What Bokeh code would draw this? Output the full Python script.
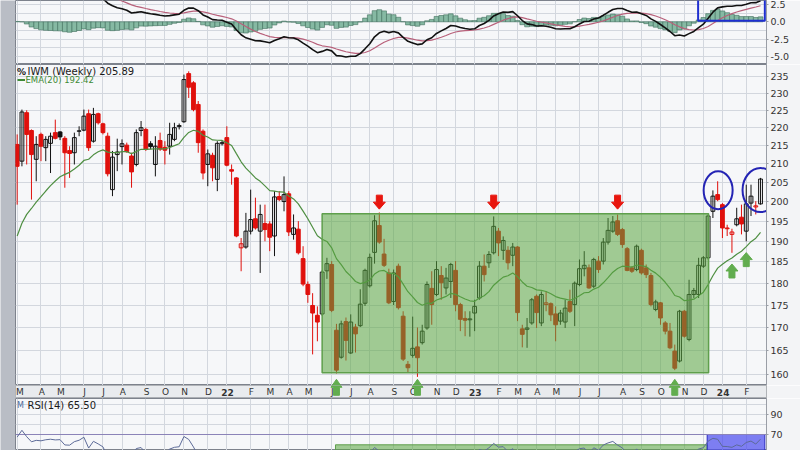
import math
import datetime as dt
from bokeh.plotting import figure
from bokeh.layouts import column, row
from bokeh.models import Range1d, FixedTicker, Grid, PrintfTickFormatter, ColumnDataSource
from bokeh.core.properties import value
from bokeh.embed import file_html
from bokeh.resources import INLINE

# ---------------- data (weekly IWM, first bar = week of 2021-03-01) ----------------
first_week = dt.date(2021, 3, 1)
opens = [215.3, 210.7, 224.3, 219.2, 211.2, 218.1, 214.4, 215.6, 218.6, 218.8,
         217.0, 213.6, 213.0, 219.0, 219.3, 224.0, 216.2, 224.0, 221.1, 217.6,
         203.1, 212.5, 214.7, 215.1, 212.1, 209.8, 219.2, 219.5, 215.5, 209.8,
         216.4, 214.5, 214.8, 216.7, 220.3, 221.7, 235.9, 233.1, 226.7, 219.0,
         209.8, 212.3, 205.8, 215.5, 217.2, 208.4, 206.2, 188.4, 188.6, 192.5,
         195.6, 192.5, 194.4, 194.3, 191.3, 201.3, 200.0, 202.0, 191.7, 193.0,
         185.8, 179.7, 174.9, 172.7, 173.0, 182.9, 184.4, 169.4, 163.6, 171.3,
         164.5, 170.1, 170.4, 175.4, 179.4, 187.3, 193.9, 186.9, 182.4, 175.8,
         184.0, 172.5, 162.1, 164.0, 165.8, 166.7, 169.9, 178.8, 177.4, 181.8,
         178.9, 180.4, 183.0, 175.1, 172.0, 171.7, 173.2, 176.6, 184.0, 184.8,
         187.2, 192.5, 187.8, 187.8, 186.6, 188.6, 169.7, 169.6, 171.0, 177.0,
         171.0, 175.1, 175.3, 173.0, 171.4, 171.2, 175.8, 175.1, 179.7, 183.4,
         183.6, 179.3, 185.2, 185.2, 189.8, 192.5, 195.1, 192.9, 188.2, 183.6,
         183.2, 187.8, 183.6, 181.8, 174.0, 175.5, 171.0, 169.2, 164.9, 162.8,
         173.6, 167.4, 177.4, 177.4, 184.0, 186.0, 197.5, 201.8, 199.2, 193.3,
         191.7, 194.1, 196.0, 192.5, 199.6, 198.6, 199.4]
highs = [218.1, 225.2, 225.0, 219.5, 217.6, 218.6, 217.6, 218.6, 222.3, 219.0,
         217.6, 214.8, 218.6, 220.4, 225.2, 225.2, 225.7, 224.3, 221.4, 218.6,
         213.5, 216.9, 216.7, 215.8, 213.0, 219.5, 221.9, 220.0, 216.2, 217.6,
         218.6, 216.2, 221.4, 221.4, 221.2, 235.6, 236.6, 233.6, 227.7, 219.5,
         213.9, 213.0, 216.2, 216.4, 220.4, 209.8, 206.4, 190.8, 197.1, 203.1,
         201.0, 199.2, 199.2, 195.0, 202.7, 202.7, 206.6, 202.7, 196.7, 195.0,
         188.8, 180.4, 177.7, 174.7, 183.0, 186.0, 185.2, 170.8, 171.5, 172.2,
         172.9, 170.8, 178.6, 183.4, 187.0, 196.5, 197.2, 190.6, 183.4, 183.2,
         184.6, 173.6, 162.8, 172.4, 170.0, 170.6, 180.4, 182.8, 185.2, 184.0,
         183.6, 184.8, 185.2, 175.5, 173.6, 173.6, 176.2, 185.2, 186.8, 187.6,
         196.2, 193.3, 191.2, 188.8, 189.6, 188.8, 170.6, 172.1, 176.6, 177.4,
         178.1, 178.1, 175.6, 174.7, 173.9, 176.2, 178.5, 180.4, 185.6, 187.6,
         184.4, 186.0, 186.4, 190.8, 195.8, 196.3, 196.7, 193.3, 188.6, 184.0,
         189.2, 188.2, 184.4, 182.4, 176.2, 175.7, 171.4, 171.0, 166.3, 173.9,
         173.9, 180.8, 178.9, 186.0, 186.4, 196.7, 202.9, 205.3, 199.6, 194.1,
         193.1, 198.4, 199.2, 204.4, 204.4, 200.1, 206.2]
lows = [199.2, 209.3, 209.8, 200.5, 205.3, 210.7, 210.7, 207.5, 216.7, 216.5,
        203.6, 206.2, 209.8, 217.6, 219.0, 213.5, 215.8, 220.9, 218.1, 206.6,
        201.4, 208.0, 209.8, 213.0, 203.6, 209.3, 217.6, 213.5, 214.0, 206.6,
        213.5, 209.8, 212.5, 216.2, 219.5, 221.4, 228.6, 224.7, 213.0, 205.8,
        204.0, 205.3, 202.7, 215.0, 209.3, 204.4, 191.0, 182.8, 188.2, 191.7,
        192.9, 182.4, 190.0, 187.6, 186.4, 200.1, 197.5, 191.3, 190.4, 186.8,
        179.3, 175.5, 164.2, 167.0, 172.6, 181.0, 173.4, 160.2, 163.3, 162.9,
        164.3, 164.6, 170.1, 174.8, 179.0, 184.6, 189.4, 183.8, 175.2, 175.0,
        174.0, 162.8, 160.3, 163.5, 159.5, 166.3, 169.5, 170.6, 177.0, 176.2,
        177.4, 176.6, 173.6, 169.2, 168.1, 168.0, 169.2, 176.2, 180.4, 183.6,
        186.8, 186.4, 185.5, 183.2, 184.0, 171.4, 165.7, 165.6, 170.6, 169.9,
        170.3, 173.6, 171.4, 167.0, 170.6, 169.9, 173.2, 170.3, 179.3, 181.6,
        178.7, 178.9, 182.4, 184.4, 189.2, 192.1, 191.3, 188.4, 182.8, 182.4,
        182.8, 182.0, 181.2, 174.7, 173.6, 170.6, 168.5, 165.3, 160.9, 162.5,
        167.8, 167.0, 176.6, 176.6, 183.6, 185.6, 195.8, 200.1, 190.8, 191.3,
        187.2, 193.7, 191.7, 190.0, 196.3, 196.7, 199.2]
closes = [209.3, 224.5, 218.1, 212.5, 215.3, 214.8, 216.7, 217.6, 217.0, 217.4,
          213.0, 212.8, 217.2, 219.1, 223.3, 214.4, 223.8, 221.4, 218.6, 207.3,
          211.8, 213.2, 215.5, 213.3, 207.8, 218.6, 220.0, 213.9, 214.7, 214.8,
          214.0, 213.7, 218.1, 220.0, 220.6, 234.1, 231.8, 225.2, 215.8, 207.5,
          212.7, 208.9, 215.6, 215.8, 209.6, 208.0, 191.3, 189.4, 192.5, 195.4,
          193.3, 196.7, 192.9, 191.0, 201.2, 200.5, 201.8, 192.3, 193.3, 187.2,
          179.8, 177.4, 173.2, 171.2, 182.6, 184.6, 173.8, 160.9, 170.8, 167.2,
          171.2, 168.6, 175.2, 183.0, 186.1, 195.1, 189.8, 184.2, 175.5, 182.4,
          174.4, 163.2, 161.4, 165.5, 163.5, 169.2, 179.7, 175.1, 183.2, 180.1,
          181.2, 184.4, 175.1, 171.8, 171.6, 171.9, 174.7, 184.0, 182.0, 186.8,
          193.7, 189.6, 190.2, 184.8, 188.6, 173.3, 168.5, 169.9, 176.2, 173.3,
          177.4, 175.5, 172.8, 170.6, 173.2, 174.3, 173.6, 180.0, 183.4, 184.2,
          178.9, 185.6, 183.2, 189.8, 192.7, 194.8, 191.7, 189.2, 183.0, 182.8,
          188.8, 182.4, 182.0, 175.1, 175.7, 172.1, 169.2, 165.6, 161.3, 173.6,
          168.1, 177.4, 178.3, 184.2, 186.0, 196.3, 201.4, 200.5, 193.3, 193.1,
          192.3, 195.6, 194.3, 199.4, 201.4, 198.9, 205.89]

# indicator values at the first bar
ema20_first = 191.3
ema12_first = 207.0
ema26_first = 190.0
signal_first = 8.9
rsi_gain_first = 3.0
rsi_loss_first = 1.45

price_ticks = [160, 165, 170, 175, 180, 185, 190, 195, 200, 205, 210, 215, 220, 225, 230, 235]
ppo_ticks = [-5.0, -2.5, 0.0, 2.5]
rsi_ticks = [70, 90]
month_labels = ["M", "A", "M", "J", "J", "A", "S", "O", "N", "D", "22", "F",
                "M", "A", "M", "J", "J", "A", "S", "O", "N", "D", "23", "F",
                "M", "A", "M", "J", "J", "A", "S", "O", "N", "D", "24", "F"]

# annotations (in weeks / prices)
range_box_weeks = (64.0, 145.1)
range_box_prices = (160.35, 196.9)
resistance_weeks = [76, 100, 126]
support_weeks = [67, 84, 138]
ema_support_weeks = [150, 153]
circled_weeks = [147.1, 156.0]

# ---------------- layout constants (page px) ----------------
LEFT_W = 15
FRAME_W = 751
RIGHT_W = 34
X0, X1 = -0.35, 157.25
PX_PER_BAR = FRAME_W / (X1 - X0)
P_TOP, P_BOT = 238.69, 157.74
MACD_H = 64
PRICE_H = 321
STRIP_H = 13
RSI_H = 52
K = math.log(P_TOP / P_BOT) / PRICE_H
P_STRIP_BOT = P_BOT * math.exp(-K * STRIP_H)

def px_x(px):  # page x -> bar coordinate
    return X0 + (px - LEFT_W) / PX_PER_BAR

def px_p(py):  # page y -> price
    return P_TOP * math.exp(-K * (py - MACD_H))

n = len(closes)
weeks = list(range(n))

def ema(vals, first, span):
    a = 2.0 / (span + 1)
    out = [first]
    for v in vals[1:]:
        out.append(out[-1] + a * (v - out[-1]))
    return out

ema20 = ema(closes, ema20_first, 20)
ema12 = ema(closes, ema12_first, 12)
ema26 = ema(closes, ema26_first, 26)
ppo = [100.0 * (a - b) / b for a, b in zip(ema12, ema26)]
signal = ema(ppo, signal_first, 9)
hist = [m - s for m, s in zip(ppo, signal)]

rsi = []
ag, al = rsi_gain_first, rsi_loss_first
for i in range(n):
    if i > 0:
        ch = closes[i] - closes[i - 1]
        ag = (ag * 13 + max(ch, 0)) / 14
        al = (al * 13 + max(-ch, 0)) / 14
    rsi.append(100 - 100 / (1 + ag / al))

# month ticks: bar of the first Monday of each month
month_pos = []
y, m = 2021, 3
for k in range(len(month_labels)):
    d = dt.date(y, m, 1)
    while d.weekday() != 0:
        d += dt.timedelta(days=1)
    month_pos.append((d - first_week).days // 7)
    m += 1
    if m > 12:
        m, y = 1, y + 1

# ---------------- styles ----------------
BG = "#f6f7f9"
GRID = "#d3d7de"
OUTLINE = "#7d828c"
FONT = value("DejaVu Sans")
xr = Range1d(X0, X1)

def base(height, y_range, log=False, axis=True):
    f = figure(width=FRAME_W + RIGHT_W, height=height, x_range=xr, y_range=y_range,
               y_axis_type="log" if log else "linear", x_axis_location=None,
               y_axis_location="right" if axis else None,
               toolbar_location=None, output_backend="svg",
               min_border_left=0, min_border_right=RIGHT_W, min_border_top=0, min_border_bottom=0)
    f.background_fill_color = BG
    f.border_fill_color = "#f3f4f6"
    f.outline_line_color = OUTLINE
    f.outline_line_width = 1
    f.grid.visible = False
    f.add_layout(Grid(dimension=0, ticker=FixedTicker(ticks=month_pos), grid_line_color=GRID), "center")
    if axis:
        ax = f.yaxis[0]
        ax.major_tick_out = 2
        ax.major_tick_in = 0
        ax.minor_tick_out = 0
        ax.minor_tick_in = 0
        ax.axis_line_color = "#9a9ea6"
        ax.major_tick_line_color = "#9a9ea6"
        ax.major_label_text_font = "DejaVu Sans"
        ax.major_label_text_font_size = "9.5px"
        ax.major_label_text_color = "#333333"
        ax.major_label_standoff = 2
    return f

# ---------------- PPO panel ----------------
v_per_px = 2.5 / 17.3
ppo_top = 2.5 + 4.0 * v_per_px
ppo_bot = ppo_top - MACD_H * v_per_px
pm = base(MACD_H, Range1d(ppo_bot, ppo_top))
pm.yaxis.ticker = FixedTicker(ticks=ppo_ticks)
pm.yaxis.formatter = PrintfTickFormatter(format="%.1f")
pm.add_layout(Grid(dimension=1, ticker=FixedTicker(ticks=[-6.25, -5.0, -3.75, -2.5, -1.25, 0.0, 1.25, 2.5]),
                   grid_line_color=GRID), "center")
pm.vbar(x=weeks, top=hist, bottom=0, width=1.0, fill_color="#86b9a3", line_color="#3f6e5c", line_width=0.6)
pm.line(weeks, signal, line_color="#b8607a", line_width=1.2)
pm.line(weeks, ppo, line_color="#111111", line_width=1.6)
pm.quad(left=[142.9], right=[156.9], bottom=[0.15], top=[4.0], fill_alpha=0,
        line_color="#1f2fd0", line_width=2)

# ---------------- price panel ----------------
pp = base(PRICE_H, Range1d(P_BOT, P_TOP), log=True)
pp.yaxis.ticker = FixedTicker(ticks=price_ticks)
pp.yaxis.formatter = PrintfTickFormatter(format="%d")
pp.add_layout(Grid(dimension=1, ticker=FixedTicker(ticks=price_ticks), grid_line_color=GRID), "center")

line_col, fill_col, fill_a = [], [], []
for i in range(n):
    prev = closes[i - 1] if i > 0 else opens[0]
    c = "#111111" if closes[i] >= prev else "#e0100c"
    line_col.append(c)
    if closes[i] < opens[i]:
        fill_col.append(c); fill_a.append(1.0)
    else:
        fill_col.append("#ffffff"); fill_a.append(0.0)
src = ColumnDataSource(dict(x=weeks, h=highs, l=lows,
                            top=[max(a, b) for a, b in zip(opens, closes)],
                            bot=[min(a, b) for a, b in zip(opens, closes)],
                            lc=line_col, fc=fill_col, fa=fill_a))
pp.segment(x0="x", y0="l", x1="x", y1="h", line_color="lc", line_width=1, source=src)
pp.vbar(x="x", top="top", bottom="bot", width=0.8, fill_color="fc", fill_alpha="fa",
        line_color="lc", line_width=1, source=src)
pp.line(weeks, ema20, line_color="#4f8f42", line_width=1.2)

pp.quad(left=[range_box_weeks[0]], right=[range_box_weeks[1]],
        bottom=[range_box_prices[0]], top=[range_box_prices[1]],
        fill_color="#5aa540", fill_alpha=0.55, line_color="#5f9f4c", line_width=1.5)

def arrow(xc, tip, up, head_w, head_h, shaft_w, shaft_h):
    """arrow polygon in (bar, price), sizes given in px"""
    s = 1 if up else -1
    hw, sw = head_w / 2 / PX_PER_BAR, shaft_w / 2 / PX_PER_BAR
    def py(dy):
        return tip * math.exp(-K * dy * s)
    xs = [xc, xc + hw, xc + sw, xc + sw, xc - sw, xc - sw, xc - hw]
    ys = [tip, py(head_h), py(head_h), py(head_h + shaft_h), py(head_h + shaft_h), py(head_h), py(head_h)]
    return xs, ys

red_tip = range_box_prices[1] * math.exp(K * 4.5)
ra = [arrow(w, red_tip, False, 12, 7, 6, 7) for w in resistance_weeks]
pp.patches([a[0] for a in ra], [a[1] for a in ra], fill_color="#e8160e", line_color="#e8160e")

green_tip = range_box_prices[0] * math.exp(-K * 6.5)
ga = [arrow(w, green_tip, True, 11, 8, 6, 8) for w in support_weeks]
pp.patches([a[0] for a in ga], [a[1] for a in ga], fill_color="#62ad4f", line_color="#62ad4f")
ea = [arrow(w, ema20[w] * math.exp(-K * 6), True, 12, 7, 6, 7) for w in ema_support_weeks]
pp.patches([a[0] for a in ea], [a[1] for a in ea], fill_color="#62ad4f", line_color="#62ad4f")

pp.ellipse(x=circled_weeks, y=[highs[147] * math.exp(-K * 9), closes[-1] * math.exp(-K * 11)],
           width=[29, 36], height=[38, 44], width_units="screen", height_units="screen",
           fill_alpha=0, line_color="#2424b4", line_width=2)

pp.text(x=[px_x(27)], y=[px_p(71)], text=["IWM (Weekly) 205.89"], text_font=FONT,
        text_font_size="10px", text_color="#1a1a1a", text_baseline="middle")
pp.text(x=[px_x(16.5)], y=[px_p(71)], text=["%"], text_font=FONT, text_font_style="bold",
        text_font_size="9px", text_color="#1a1a1a", text_baseline="middle")
pp.text(x=[px_x(25)], y=[px_p(79.5)], text=["EMA(20) 192.42"], text_font=FONT,
        text_font_size="8.5px", text_color="#3e8a35", text_baseline="middle")
pp.segment(x0=[px_x(17)], y0=[px_p(79.5)], x1=[px_x(24.5)], y1=[px_p(79.5)],
           line_color="#3e8a35", line_width=2)

# ---------------- date strip ----------------
ps = figure(width=FRAME_W + RIGHT_W, height=STRIP_H, x_range=xr, y_range=Range1d(P_STRIP_BOT, P_BOT),
            y_axis_type="log", x_axis_location=None, y_axis_location=None,
            toolbar_location=None, output_backend="svg",
            min_border_left=0, min_border_right=RIGHT_W, min_border_top=0, min_border_bottom=0)
ps.grid.visible = False
ps.background_fill_color = "#e9ebee"
ps.border_fill_color = "#f3f4f6"
ps.outline_line_color = "#6f737b"
ps.outline_line_dash = "1 1"
mid = math.sqrt(P_STRIP_BOT * P_BOT)
label_x = [max(p + 0.15, px_x(19.5)) for p in month_pos]
styles = ["bold" if lab.isdigit() else "normal" for lab in month_labels]
ps.text(x=label_x, y=[mid] * len(month_pos), text=month_labels, text_font=FONT,
        text_font_size="9px", text_font_style=styles, text_color="#333333",
        text_align="center", text_baseline="middle")
ps.patches([a[0] for a in ga], [a[1] for a in ga], fill_color="#62ad4f", line_color="#62ad4f")

# ---------------- RSI panel ----------------
rsi_top = 70 + (434 - 398)
pr = base(RSI_H, Range1d(rsi_top - RSI_H, rsi_top))
pr.yaxis.ticker = FixedTicker(ticks=rsi_ticks)
pr.add_layout(Grid(dimension=1, ticker=FixedTicker(ticks=[80, 90, 100]), grid_line_color=GRID), "center")
pr.quad(left=[66.8], right=[144.8], bottom=[40], top=[59.7], fill_color="#5aa540", fill_alpha=0.55,
        line_color="#5f9f4c")
pr.quad(left=[144.8], right=[156.9], bottom=[40], top=[70], fill_color="#4a4af0", fill_alpha=0.7,
        line_color="#2a2ac0")
pr.segment(x0=[X0], y0=[70], x1=[X1], y1=[70], line_color="#8b83b8", line_width=1)
pr.line(weeks, rsi, line_color="#5d6b98", line_width=1)
pr.text(x=[px_x(27)], y=[rsi_top - (405 - 398)], text=["RSI(14) 65.50"], text_font=FONT,
        text_font_size="10px", text_color="#1a1a1a", text_baseline="middle")
pr.text(x=[px_x(16.5)], y=[rsi_top - (405 - 398)], text=["M"], text_font=FONT,
        text_font_size="8px", text_color="#4a6a9a", text_baseline="middle")

left = figure(width=LEFT_W, height=MACD_H + PRICE_H + STRIP_H + RSI_H, x_axis_location=None,
              y_axis_location=None, toolbar_location=None, output_backend="svg",
              min_border=0)
left.grid.visible = False
left.background_fill_color = "#b9bdc5"
left.border_fill_color = "#b9bdc5"
left.outline_line_color = None

layout = row(left, column(pm, pp, ps, pr, spacing=0), spacing=0)
open("out.html", "w").write(file_html(layout, INLINE))
